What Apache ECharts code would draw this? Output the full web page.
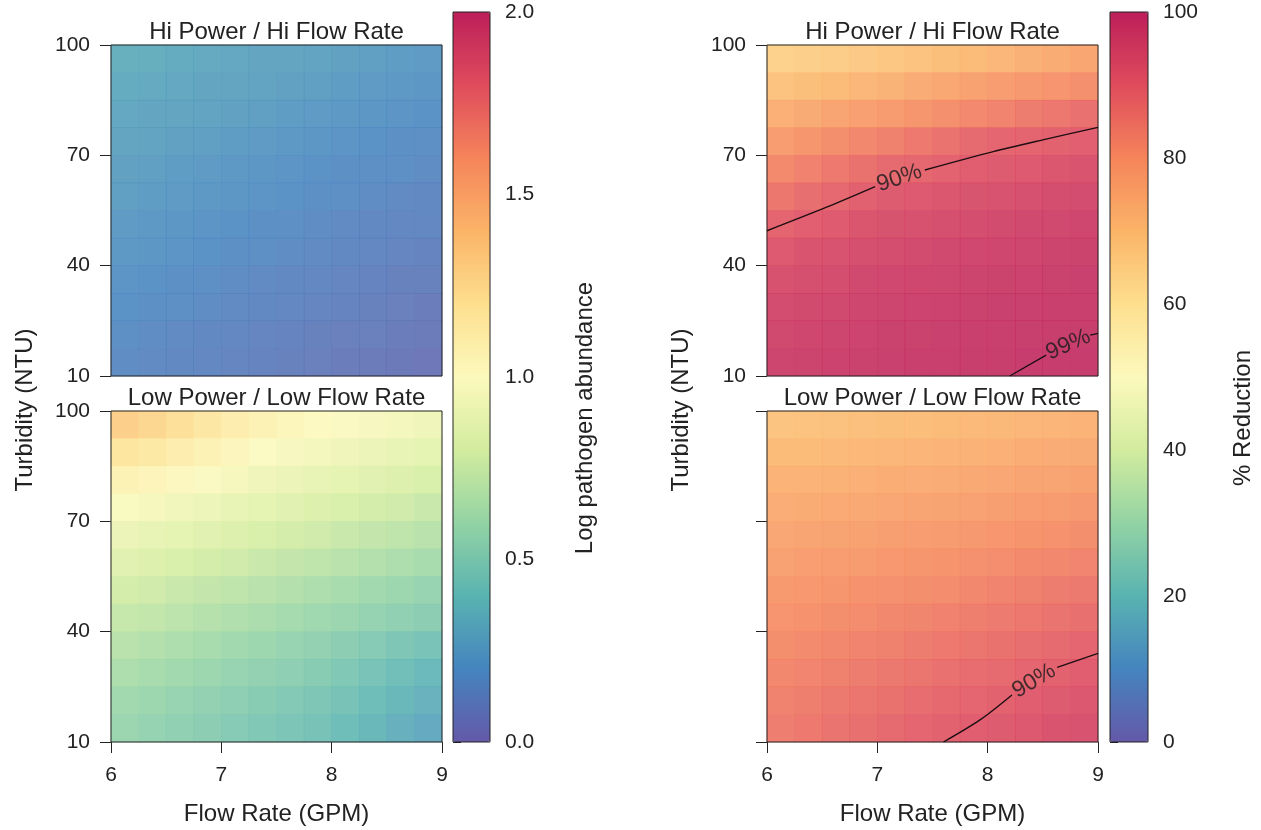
<!DOCTYPE html>
<html><head><meta charset="utf-8">
<script src="https://cdn.jsdelivr.net/npm/echarts@6.0.0/dist/echarts.min.js"></script>
<style>html,body{margin:0;padding:0;background:#fff}#c{width:1261px;height:830px}</style>
</head><body><div id="c"></div>
<script>
// ---------- data ----------
const xCells = [6.125, 6.375, 6.625, 6.875, 7.125, 7.375, 7.625, 7.875, 8.125, 8.375, 8.625, 8.875];
const yCells = [13.75, 21.25, 28.75, 36.25, 43.75, 51.25, 58.75, 66.25, 73.75, 81.25, 88.75, 96.25]; // bottom -> top
// matrices: rows listed top (96.25) -> bottom (13.75), columns left (6.125) -> right (8.875)
const logHiPower = [
  [.34,.33,.32,.31,.30,.29,.29,.28,.27,.26,.25,.24],
  [.32,.31,.30,.29,.29,.28,.27,.26,.25,.24,.23,.22],
  [.30,.29,.29,.28,.27,.26,.25,.24,.23,.22,.21,.20],
  [.29,.28,.27,.26,.25,.24,.23,.22,.21,.20,.19,.18],
  [.27,.26,.25,.24,.23,.22,.21,.20,.19,.18,.18,.17],
  [.26,.25,.24,.23,.22,.21,.20,.19,.18,.17,.16,.15],
  [.24,.23,.22,.21,.20,.19,.18,.17,.16,.15,.14,.14],
  [.23,.22,.21,.20,.19,.18,.17,.16,.15,.14,.13,.12],
  [.21,.20,.19,.18,.17,.16,.15,.14,.13,.12,.11,.11],
  [.20,.19,.18,.17,.16,.15,.14,.13,.12,.11,.10,.09],
  [.18,.17,.16,.15,.14,.13,.12,.11,.10,.10,.09,.08],
  [.17,.16,.15,.14,.13,.12,.11,.10,.09,.08,.07,.06]
];
const logLowPower = [
  [1.30,1.26,1.21,1.16,1.11,1.07,1.04,1.01,0.99,0.97,0.95,0.93],
  [1.18,1.15,1.11,1.07,1.03,1.00,0.97,0.95,0.93,0.91,0.89,0.87],
  [1.07,1.05,1.02,0.99,0.96,0.93,0.91,0.89,0.87,0.85,0.83,0.81],
  [0.98,0.96,0.94,0.92,0.89,0.87,0.85,0.83,0.81,0.79,0.77,0.75],
  [0.91,0.89,0.87,0.85,0.83,0.81,0.79,0.77,0.75,0.73,0.71,0.69],
  [0.85,0.83,0.81,0.79,0.77,0.75,0.73,0.71,0.69,0.67,0.65,0.63],
  [0.79,0.77,0.75,0.73,0.71,0.69,0.67,0.65,0.63,0.61,0.59,0.57],
  [0.74,0.72,0.70,0.68,0.66,0.64,0.62,0.60,0.58,0.56,0.54,0.52],
  [0.69,0.67,0.65,0.63,0.61,0.59,0.57,0.55,0.52,0.50,0.47,0.45],
  [0.65,0.63,0.61,0.59,0.57,0.55,0.53,0.51,0.48,0.45,0.42,0.39],
  [0.61,0.59,0.57,0.55,0.53,0.51,0.49,0.47,0.44,0.41,0.38,0.35],
  [0.58,0.56,0.54,0.52,0.50,0.48,0.46,0.44,0.41,0.38,0.34,0.31]
];
const redHiPower = [
  [64.4,65.1,65.9,66.6,67.5,68.5,69.5,70.5,71.6,72.9,74.1,75.4],
  [68.5,69.5,70.5,71.5,72.6,73.9,75.1,76.4,77.5,78.5,79.5,80.5],
  [73.1,74.4,75.6,76.9,78.1,79.4,80.6,81.9,83.1,84.4,85.6,86.9],
  [77.8,79.3,80.8,82.3,83.6,85.1,86.5,88.1,89.1,89.6,90.1,90.6],
  [81.8,83.4,85.1,86.7,88.1,89.0,89.9,90.8,91.3,91.9,92.6,93.2],
  [85.8,87.3,88.8,90.3,91.3,92.0,92.6,93.3,93.8,94.3,94.8,95.3],
  [89.6,90.7,91.8,92.9,93.6,94.1,94.5,95.0,95.5,95.9,96.3,96.6],
  [92.1,93.0,93.8,94.6,95.2,95.6,96.0,96.4,96.7,97.0,97.3,97.6],
  [93.9,94.6,95.2,95.9,96.4,96.7,97.0,97.3,97.6,97.8,98.0,98.2],
  [95.3,95.8,96.3,96.8,97.2,97.5,97.7,98.0,98.2,98.3,98.5,98.6],
  [96.3,96.7,97.1,97.5,97.9,98.1,98.3,98.5,98.65,98.75,98.85,98.95],
  [97.1,97.4,97.7,98.0,98.3,98.5,98.6,98.8,98.95,99.05,99.15,99.25]
];
const redLowPower = [
  [68.2,68.5,68.8,69.2,69.5,69.8,70.2,70.7,71.1,71.5,71.9,72.3],
  [70.2,70.5,70.8,71.2,71.5,71.8,72.2,72.7,73.1,73.5,73.9,74.3],
  [72.2,72.5,72.8,73.2,73.5,73.8,74.2,74.7,75.2,75.6,76.0,76.4],
  [73.7,74.1,74.5,74.8,75.2,75.6,76.1,76.6,77.1,77.6,78.1,78.6],
  [75.2,75.7,76.1,76.5,77.0,77.4,77.9,78.5,79.1,79.7,80.2,80.7],
  [76.7,77.2,77.7,78.2,78.7,79.2,79.7,80.4,81.1,81.7,82.3,82.9],
  [78.3,78.8,79.3,79.9,80.4,80.9,81.5,82.3,83.0,83.7,84.4,85.0],
  [79.6,80.2,80.8,81.5,82.1,82.7,83.4,84.1,84.8,85.5,86.3,87.1],
  [80.9,81.6,82.3,83.0,83.7,84.4,85.2,85.9,86.6,87.4,88.3,89.1],
  [82.1,82.9,83.7,84.5,85.3,86.1,86.9,87.6,88.3,89.1,90.0,90.8],
  [83.2,84.1,85.0,85.9,86.8,87.7,88.5,89.3,90.0,90.8,91.6,92.4],
  [84.3,85.2,86.2,87.2,88.1,89.1,90.0,90.8,91.5,92.3,93.1,93.8]
];
// contour lines (Flow Rate, Turbidity), split where the label sits
const hi90a = [[6,49.5],[6.54,55.9],[6.98,61.5]];
const hi90b = [[7.43,66],[8.05,71],[8.5,74.2],[9,77.6]];
const hi99a = [[8.2,10],[8.53,15.7]];
const hi99b = [[8.93,21.1],[9,21.6]];
const low90a = [[7.6,10],[7.93,16],[8.22,22.8]];
const low90b = [[8.63,30.3],[9,34.1]];
const hiLabels = [{value:[7.2,63.8], text:'90%', angle:18.5},{value:[8.73,18.5], text:'99%', angle:24}];
const lowLabels = [{value:[8.42,26.6], text:'90%', angle:31}];
const flowTicks = {min:6, max:9, interval:1};
const turbTicks = {min:10, max:100, interval:30};
const logTicks = {min:0, max:2, interval:0.5};
const redTicks = {min:0, max:100, interval:20};

// ---------- chart ----------
const FONT = '"Liberation Sans", Arial, Helvetica, sans-serif';
const INK = '#222';
const spectral = ['#6459A8','#4584BF','#59B3B1','#93D3A4','#D2EC9E','#FCF9BC','#FDDF8E','#FBB468','#F5845A','#DF4C5C','#BC1F5A'];
function toCells(m){const out=[];m.forEach((row,r)=>row.forEach((v,c)=>out.push([c,yCells.length-1-r,v])));return out;}

const panels = [[111,45],[111,411],[767,45],[767,411]];
const PW = 331, PH = 331;
const grid = [];
panels.forEach(p=>grid.push({left:p[0],top:p[1],width:PW,height:PH}));
panels.forEach(p=>grid.push({left:p[0],top:p[1],width:PW,height:PH,show:true,borderColor:INK,borderWidth:1,backgroundColor:'transparent',z:3}));
grid.push({left:453,top:12,width:37,height:730,show:true,borderColor:INK,borderWidth:1,backgroundColor:'transparent',z:10}); //8
grid.push({left:1110,top:12,width:38,height:730,show:true,borderColor:INK,borderWidth:1,backgroundColor:'transparent',z:10}); //9
grid.push({left:111,top:78,width:331,height:664}); //10
grid.push({left:767,top:78,width:331,height:664}); //11
grid.push({left:453,top:100,width:37,height:636}); //12
grid.push({left:1110,top:100,width:38,height:636}); //13

const lbl = {color:INK,fontSize:21,fontFamily:FONT};
const tick = {show:true,length:11,lineStyle:{color:INK,width:1}};
const xAxis = [], yAxis = [];
for(let i=0;i<4;i++){
  xAxis.push({gridIndex:i,type:'category',data:xCells,show:false});
  yAxis.push({gridIndex:i,type:'category',data:yCells,show:false});
}
for(let i=0;i<4;i++){
  const bottom = (i===1||i===3);
  xAxis.push(Object.assign({gridIndex:4+i,type:'value',axisLine:{show:false},splitLine:{show:false},
    axisTick:Object.assign({},tick,{show:bottom}),
    axisLabel:Object.assign({show:bottom,margin:23},lbl),
    name:bottom?'Flow Rate (GPM)':'',nameLocation:'middle',nameGap:60,
    nameTextStyle:{color:INK,fontSize:24,fontFamily:FONT}},flowTicks));
  yAxis.push(Object.assign({gridIndex:4+i,type:'value',axisLine:{show:false},splitLine:{show:false},
    axisTick:tick,axisLabel:Object.assign({show:i!==3,margin:21},lbl)},turbTicks));
}
// colorbar axes
xAxis.push({gridIndex:8,type:'value',show:false,min:0,max:1});
xAxis.push({gridIndex:9,type:'value',show:false,min:0,max:1});
yAxis.push(Object.assign({gridIndex:8,type:'value',position:'right',axisLine:{show:false},splitLine:{show:false},
  axisTick:{show:true,length:8,lineStyle:{color:INK}},axisLabel:Object.assign({margin:15,formatter:v=>v.toFixed(1)},lbl)},logTicks));
yAxis.push(Object.assign({gridIndex:9,type:'value',position:'right',axisLine:{show:false},splitLine:{show:false},
  axisTick:{show:true,length:8,lineStyle:{color:INK}},axisLabel:Object.assign({margin:15},lbl)},redTicks));
// title-only axes
const nameStyle = {color:INK,fontSize:24,fontFamily:FONT};
function nameAxis(g,pos,name,gap){
  return {gridIndex:g,type:'value',min:0,max:1,position:pos,axisLine:{show:false},axisTick:{show:false},axisLabel:{show:false},
    splitLine:{show:false},name:name,nameLocation:'middle',nameRotate:90,nameGap:gap,nameTextStyle:nameStyle};
}
for(let g=10;g<14;g++) xAxis.push({gridIndex:g,type:'value',show:false,min:0,max:1});
yAxis.push(nameAxis(10,'left','Turbidity (NTU)',74));
yAxis.push(nameAxis(11,'left','Turbidity (NTU)',74));
yAxis.push(nameAxis(12,'right','Log pathogen abundance',83));
yAxis.push(nameAxis(13,'right','% Reduction',83));

function heat(idx,m){return {type:'heatmap',xAxisIndex:idx,yAxisIndex:idx,data:toCells(m),itemStyle:{borderWidth:0,opacity:0.88},emphasis:{disabled:true},silent:true,progressive:0};}
function contour(idx,d){return {type:'line',xAxisIndex:idx,yAxisIndex:idx,data:d,smooth:0.3,symbol:'none',silent:true,
  lineStyle:{color:'#1e0e12',width:1.4},z:5};}
function labels(idx,arr){return {type:'scatter',xAxisIndex:idx,yAxisIndex:idx,symbolSize:1,silent:true,z:6,
  itemStyle:{color:'rgba(0,0,0,0)'},
  data:arr.map(o=>({value:o.value,label:{formatter:o.text,rotate:o.angle}})),
  label:{show:true,position:'inside',fontSize:23,color:'#1a1a1a',fontFamily:FONT}};}

const series = [
  heat(0,logHiPower), heat(1,logLowPower), heat(2,redHiPower), heat(3,redLowPower),
  contour(6,hi90a), contour(6,hi90b), contour(6,hi99a), contour(6,hi99b),
  contour(7,low90a), contour(7,low90b),
  labels(6,hiLabels), labels(7,lowLabels)
];

const titleStyle = {color:INK,fontSize:24,fontWeight:'normal',fontFamily:FONT};
const title = [
  {text:'Hi Power / Hi Flow Rate',left:276.5,top:20,textAlign:'center',padding:0,textStyle:titleStyle},
  {text:'Low Power / Low Flow Rate',left:276.5,top:386,textAlign:'center',padding:0,textStyle:titleStyle},
  {text:'Hi Power / Hi Flow Rate',left:932.5,top:20,textAlign:'center',padding:0,textStyle:titleStyle},
  {text:'Low Power / Low Flow Rate',left:932.5,top:386,textAlign:'center',padding:0,textStyle:titleStyle}
];

const visualMap = [
  {type:'continuous',min:0,max:2,seriesIndex:[0,1],dimension:2,left:453,top:12,itemWidth:37,itemHeight:730,padding:0,
    calculable:false,hoverLink:false,inRange:{color:spectral}},
  {type:'continuous',min:0,max:100,seriesIndex:[2,3],dimension:2,left:1110,top:12,itemWidth:38,itemHeight:730,padding:0,
    calculable:false,hoverLink:false,inRange:{color:spectral}}
];

const chart = echarts.init(document.getElementById('c'),null,{renderer:'canvas'});
chart.setOption({animation:false,backgroundColor:'#fff',textStyle:{fontFamily:FONT},title,grid,xAxis,yAxis,visualMap,series});
</script></body></html>
